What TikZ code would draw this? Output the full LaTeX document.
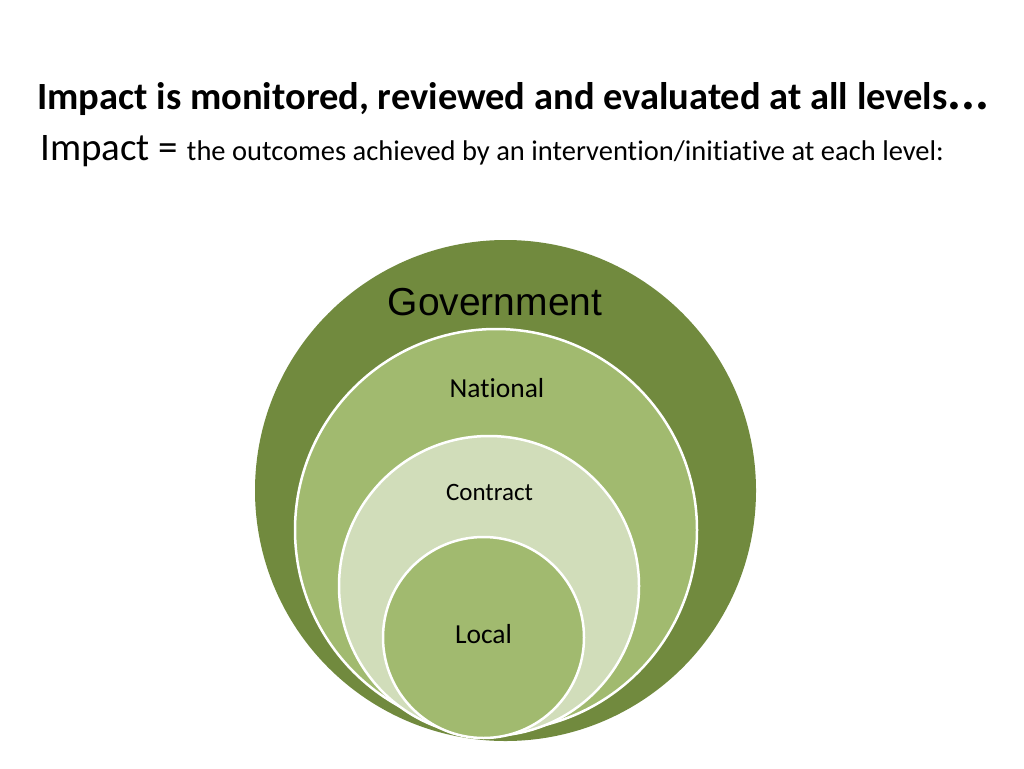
\documentclass[tikz,border=0pt]{standalone}
\usepackage{fontspec}
\setmainfont{Carlito}[Ligatures={NoCommon}]
\newfontfamily\arialfont{Liberation Sans}
\definecolor{govgreen}{HTML}{718A3E}
\definecolor{natgreen}{HTML}{A1BA6F}
\definecolor{congreen}{HTML}{D1DDBA}
\begin{document}
\begin{tikzpicture}[x=1pt,y=-1pt,
  ring/.style={circle, inner sep=0pt, draw=white, line width=2.5pt},
  lbl/.style={inner sep=0pt, anchor=base, text=black}]
\useasboundingbox (0,0) rectangle (1024,768);
\fill[white] (0,0) rectangle (1024,768);
% title
\node[inner sep=0pt, anchor=base west] (title) at (37,109)
  {\fontsize{38.5}{38.5}\selectfont\bfseries Impact is monitored, reviewed and evaluated at all levels{\fontsize{52}{52}\selectfont ...}};
\node[inner sep=0pt, anchor=base west] (def) at (40,160)
  {\fontsize{39}{39}\selectfont Impact = {\fontsize{28.5}{28.5}\selectfont the outcomes achieved by an intervention/initiative at each level:}};
% circles
\node[ring, draw=none, fill=govgreen, minimum size=501pt] (gov) at (505.5,490.5) {};
\node[ring, fill=natgreen, minimum size=402pt] (nat) at (496,530) {};
\node[ring, fill=congreen, minimum size=300pt] (con) at (489,586) {};
\node[ring, fill=natgreen, minimum size=201pt] (loc) at (483.5,637.5) {};
% labels
\node[lbl] (govl) at (495,315) {\arialfont\fontsize{39}{39}\selectfont Government};
\node[lbl] (natl) at (497,397.5) {\fontsize{27.5}{27.5}\selectfont National};
\node[lbl] (conl) at (489.5,500.5) {\fontsize{25}{25}\selectfont Contract};
\node[lbl] (locl) at (483.5,643) {\fontsize{27.5}{27.5}\selectfont Local};
\end{tikzpicture}
\end{document}
